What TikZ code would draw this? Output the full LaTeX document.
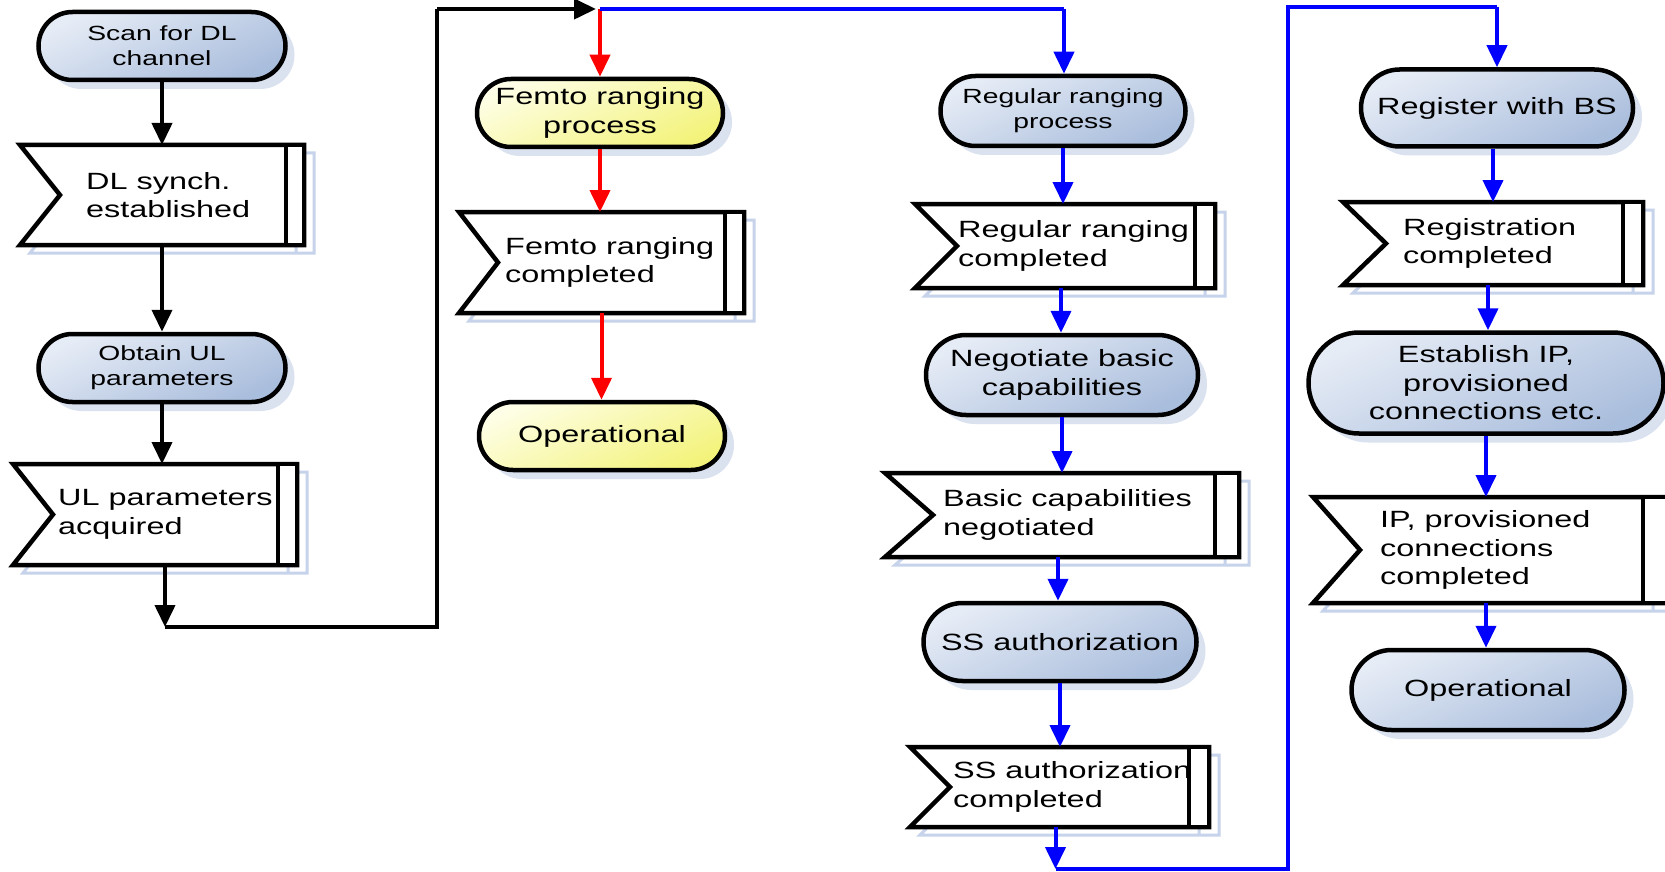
\documentclass[tikz,border=0pt]{standalone}
\usepackage{fontspec}
\setmainfont{Liberation Sans}[FakeStretch=1.38]
\usetikzlibrary{shapes.misc,arrows.meta,shadows,calc}
\definecolor{termA}{HTML}{E6ECF6}
\definecolor{termB}{HTML}{A9BDDC}
\definecolor{yelA}{HTML}{FEFEE6}
\definecolor{yelB}{HTML}{F3F37C}
\definecolor{shadowc}{HTML}{DAE2F0}
\definecolor{flagsh}{HTML}{C6D3EB}
\definecolor{myblue}{HTML}{0000FF}
\definecolor{myred}{HTML}{FF0000}
\newcommand\fstd{\fontsize{23.5}{28.5}\selectfont}
\newcommand\fsm{\fontsize{20.5}{25}\selectfont}
\tikzset{
  term/.style={rounded rectangle, draw=black, line width=4.5pt,
    top color=termA, bottom color=termB, shading angle=25,
    drop shadow={shadow xshift=9pt, shadow yshift=-9pt, fill=shadowc, opacity=1},
    align=center, inner sep=0pt, font=\fstd},
  yterm/.style={term, top color=yelA, bottom color=yelB, shading angle=25},
  flagbox/.style={rectangle, draw=none, inner sep=0pt, outer sep=0pt},
  flagline/.style={draw=black, line width=4.5pt, fill=white},
  flagshadow/.style={draw=flagsh, line width=3pt},
  flagtext/.style={anchor=west, align=left, inner sep=0pt, font=\fstd},
  tipk/.style={-{Triangle[width=20pt,length=22pt]}},
  karrow/.style={draw=black, line width=4pt, tipk},
  kline/.style={draw=black, line width=3.5pt},
  rarrow/.style={draw=myred, line width=4pt, tipk},
  barrow/.style={draw=myblue, line width=4pt, tipk},
  bline/.style={draw=myblue, line width=3.5pt},
}
\newcommand\flag[9]{%
  \node[flagbox, minimum width=#4, minimum height=#5] (#1) at (#2,#3) {};
  \draw[flagshadow] ([shift={(10,8)}]#1.north west) -- ([shift={(10,8)}]#1.north east)
     -- ([shift={(10,8)}]#1.south east) -- ([shift={(10,8)}]#1.south west)
     -- ([shift={(10+#6,8)}]#1.west) -- cycle
     ([shift={(10-#7,8)}]#1.north east) -- ([shift={(10-#7,8)}]#1.south east);
  \draw[flagline] (#1.north west) -- (#1.north east) -- (#1.south east)
     -- (#1.south west) -- ([xshift=#6]#1.west) -- cycle;
  \node[flagtext] (#1t) at ([xshift=#8]#1.west) {#9};
  \draw[flagline] ([xshift=-#7]#1.north east) rectangle (#1.south east);
}
\begin{document}
\begin{tikzpicture}[x=1pt,y=-1pt]
\fill[white] (0,0) rectangle (1665,872);
\useasboundingbox (0,0) rectangle (1665,872);

% column 1
\node[term, font=\fsm, minimum width=247, minimum height=68] (scan) at (162,46) {Scan for DL\\channel};
\flag{dl}{162}{195}{284}{100}{40}{18}{66}{DL synch.\\established}
\node[term, font=\fsm, minimum width=247, minimum height=68] (obtain) at (162,368) {Obtain UL\\parameters};
\flag{ul}{155}{514.5}{284}{101}{40}{19}{45}{UL parameters\\acquired}

% column 2
\node[yterm, minimum width=246, minimum height=68] (femto) at (600,113) {Femto ranging\\process};
\flag{femc}{601.5}{262.5}{285}{101}{39}{19}{46}{Femto ranging\\completed}
\node[yterm, minimum width=246, minimum height=68] (op1) at (602,436) {Operational};

% column 3
\node[term, font=\fsm, minimum width=245, minimum height=70] (regproc) at (1063,111) {Regular ranging\\process};
\flag{regc}{1065}{246}{300}{84}{42}{20}{43}{Regular ranging\\completed}
\node[term, minimum width=272, minimum height=80] (nego) at (1062,375) {Negotiate basic\\capabilities};
\flag{basic}{1062}{515}{354}{84}{48}{24}{58}{Basic capabilities\\negotiated}
\node[term, minimum width=273, minimum height=78] (ssauth) at (1060,642) {SS authorization};
\flag{ssc}{1059.5}{787}{299}{80}{40}{20}{43}{SS authorization\\completed}

% column 4
\node[term, minimum width=272, minimum height=77] (register) at (1497,108) {Register with BS};
\flag{regis}{1493}{243.5}{300}{83}{43}{20}{60}{Registration\\completed}
\node[term, minimum width=355, minimum height=101] (estab) at (1486,383) {Establish IP,\\provisioned\\connections etc.};
\flag{ip}{1490}{550}{354}{106}{47}{24}{67}{IP, provisioned\\connections\\completed}
\node[term, minimum width=273, minimum height=80] (op2) at (1488,690) {Operational};

% junction coordinates
\coordinate (c1) at (165,627);
\coordinate (c2) at (437,627);
\coordinate (c3) at (437,9);
\coordinate (j1) at (600,9);
\coordinate (j2) at (1064,9);
\coordinate (c4) at (1059,869);
\coordinate (c5) at (1288,869);
\coordinate (c6) at (1288,7);
\coordinate (c7) at (1497,7);

% black connectors
\draw[karrow] (scan.south) -- (scan.south |- dl.north);
\draw[karrow] (dl.south) -- (dl.south |- obtain.north);
\draw[karrow] (obtain.south) -- (obtain.south |- ul.north);
\draw[karrow] ([xshift=10]ul.south) -- (c1);
\draw[kline] (c1) -- (c2) -- (c3);
\draw[karrow, shorten >=4pt] (c3) -- (j1);

% red connectors
\draw[rarrow] (j1) -- (j1 |- femto.north);
\draw[rarrow] (femto.south) -- (femto.south |- femc.north);
\draw[rarrow] (femc.south) -- (femc.south |- op1.north);

% blue connectors
\draw[bline] (j1) -- (j2);
\draw[barrow] (j2) -- (j2 |- regproc.north);
\draw[barrow] (regproc.south) -- (regproc.south |- regc.north);
\draw[barrow] ([xshift=-4]regc.south) -- ([xshift=-4]regc.south |- nego.north);
\draw[barrow] (nego.south) -- (nego.south |- basic.north);
\draw[barrow] ([xshift=-4]basic.south) -- ([xshift=-4]basic.south |- ssauth.north);
\draw[barrow] (ssauth.south) -- (ssauth.south |- ssc.north);
\draw[barrow] ([xshift=-4]ssc.south) -- ([xshift=-4]ssc.south |- c4);
\draw[bline] ([xshift=-4]ssc.south |- c4) -- (c5) -- (c6) -- (c7);
\draw[barrow] (c7) -- (c7 |- register.north);
\draw[barrow] ([xshift=-4]register.south) -- ([xshift=-4]register.south |- regis.north);
\draw[barrow] ([xshift=-5]regis.south) -- ([xshift=-5]regis.south |- estab.north);
\draw[barrow] (estab.south) -- (estab.south |- ip.north);
\draw[barrow] ([xshift=-4]ip.south) -- ([xshift=-4]ip.south |- op2.north);
\end{tikzpicture}
\end{document}
